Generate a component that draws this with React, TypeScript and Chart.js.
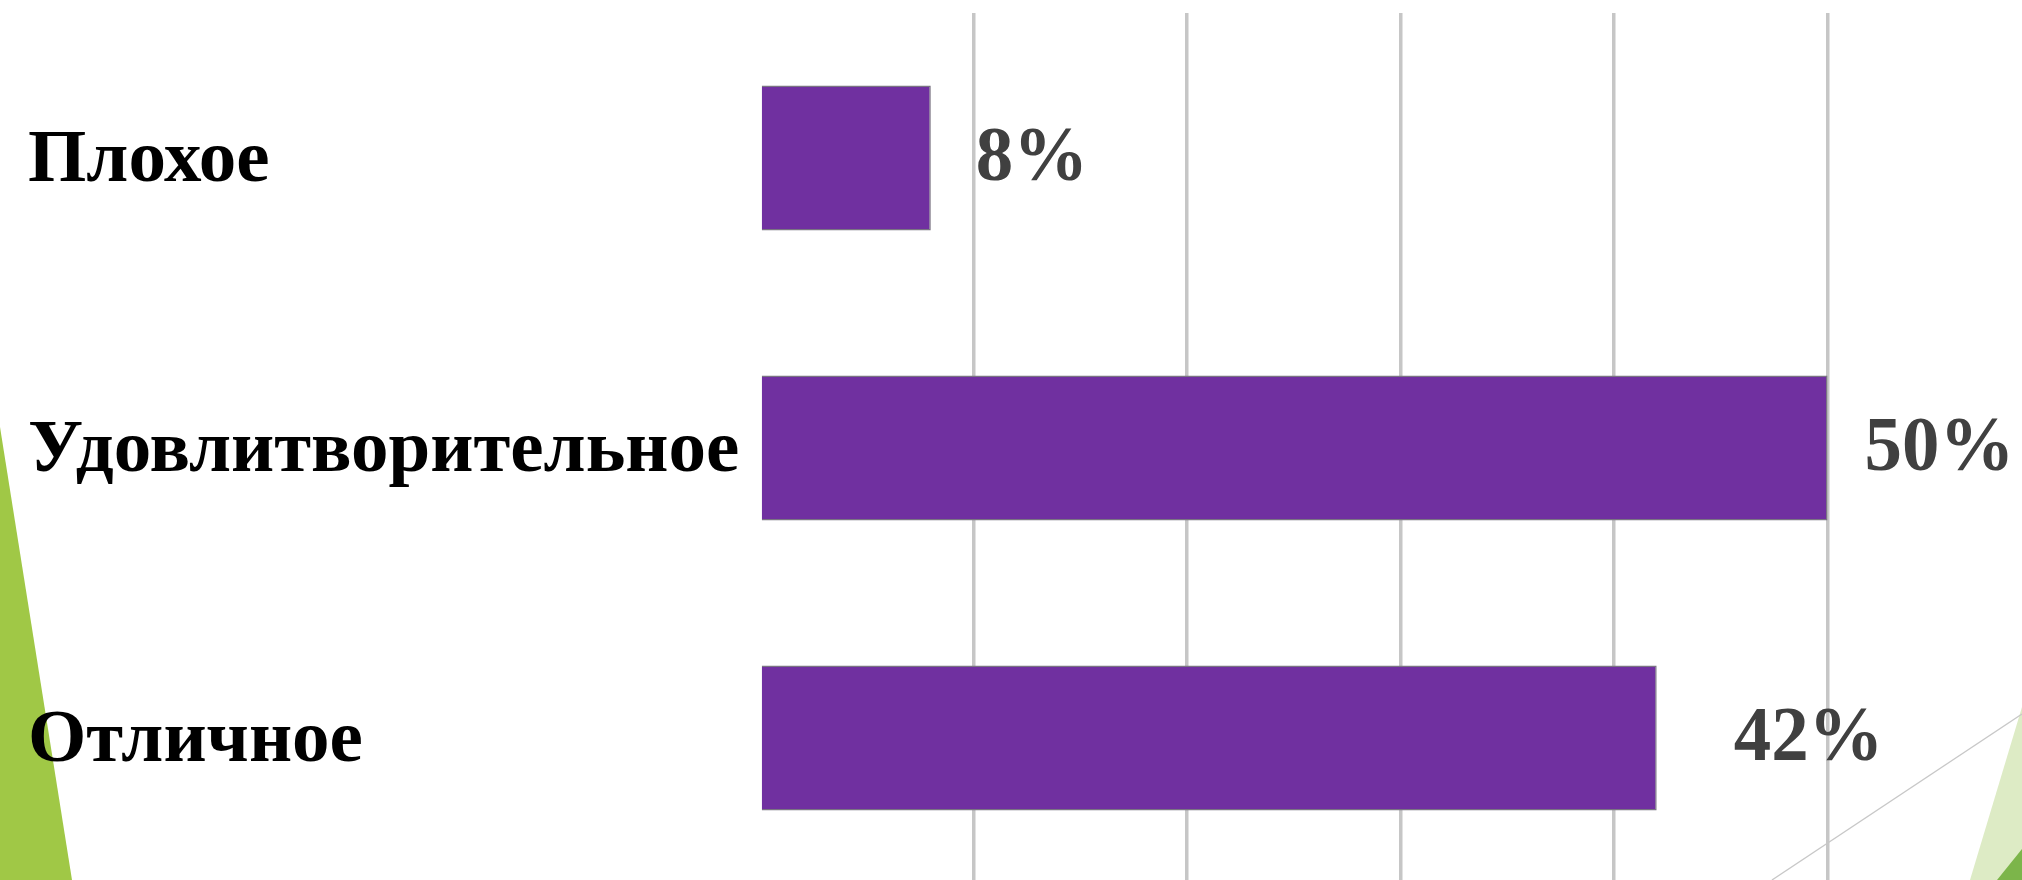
import React, { useEffect, useRef } from "react";
import { Chart, registerables } from "chart.js";

Chart.register(...registerables);

const categories = ["Плохое", "Удовлитворительное", "Отличное"];
const values = [8, 50, 42];
const axisMax = 60;
const axisStep = 10;

const LABEL_GAPS = [45, 37, 77];

const decorPlugin = {
  id: "decor",
  beforeDraw(chart: any) {
    const ctx = chart.ctx;
    ctx.save();
    ctx.fillStyle = "#A0C846";
    ctx.beginPath();
    ctx.moveTo(0, 427);
    ctx.lineTo(72, 880);
    ctx.lineTo(0, 880);
    ctx.closePath();
    ctx.fill();
    ctx.fillStyle = "#DDEBC5";
    ctx.beginPath();
    ctx.moveTo(2022, 707);
    ctx.lineTo(1970, 880);
    ctx.lineTo(2022, 880);
    ctx.closePath();
    ctx.fill();
    ctx.fillStyle = "#7CB54A";
    ctx.beginPath();
    ctx.moveTo(2022, 849);
    ctx.lineTo(1997, 880);
    ctx.lineTo(2022, 880);
    ctx.closePath();
    ctx.fill();
    ctx.strokeStyle = "#c8c8c8";
    ctx.lineWidth = 1.5;
    ctx.beginPath();
    ctx.moveTo(2022, 714);
    ctx.lineTo(1772, 880);
    ctx.stroke();
    ctx.restore();
  },
};

const valueLabelPlugin = {
  id: "valueLabels",
  afterDatasetsDraw(chart: any) {
    const ctx = chart.ctx;
    const meta = chart.getDatasetMeta(0);
    meta.data.forEach((el: any, i: number) => {
      ctx.save();
      ctx.translate(el.x + LABEL_GAPS[i], el.y + 2);
      ctx.scale(0.96, 1);
      ctx.font = 'bold 78px "Liberation Serif"';
      ctx.fillStyle = "#404040";
      ctx.textAlign = "left";
      ctx.textBaseline = "middle";
      ctx.fillText(`${values[i]}%`, 0, 0);
      ctx.restore();
    });
  },
};

export default function App() {
  const ref = useRef<HTMLCanvasElement | null>(null);
  useEffect(() => {
    if (!ref.current) return;
    const chart = new Chart(ref.current, {
      type: "bar",
      data: {
        labels: categories,
        datasets: [
          {
            data: values,
            backgroundColor: "#7030A0",
            borderColor: "#7a7482",
            borderWidth: 1.5,
            barPercentage: 0.5,
            categoryPercentage: 1,
          },
        ],
      },
      plugins: [decorPlugin, valueLabelPlugin],
      options: {
        animation: false,
        responsive: true,
        maintainAspectRatio: false,
        devicePixelRatio: 1,
        indexAxis: "y",
        layout: { padding: { left: 28, top: 13, right: 3, bottom: 1 } },
        plugins: { legend: { display: false }, tooltip: { enabled: false } },
        scales: {
          x: {
            min: 0,
            max: axisMax,
            ticks: { display: false, stepSize: axisStep },
            border: { display: false },
            afterFit: (s: any) => {
              s.height = 0;
              s.paddingLeft = 0;
              s.paddingRight = 0;
            },
            grid: {
              drawTicks: false,
              lineWidth: 3.5,
              color: (c: any) => (c.tick && c.tick.value === 0 ? "rgba(0,0,0,0)" : "#c6c6c6"),
            },
          },
          y: {
            border: { display: false },
            grid: { display: false, drawTicks: false },
            afterFit: (s: any) => {
              s.width = 732;
              s.paddingTop = 0;
              s.paddingBottom = 0;
            },
            ticks: {
              crossAlign: "far",
              labelOffset: 4,
              color: "#000000",
              font: { family: '"Liberation Serif", serif', size: 75, weight: "bold" },
            },
          },
        },
      },
    });
    return () => chart.destroy();
  }, []);
  return (
    <div style={{ position: "absolute", left: 0, top: 0, width: 2022, height: 880, overflow: "hidden", background: "#fff" }}>
      <div style={{ position: "relative", width: 2044, height: 884 }}>
        <canvas ref={ref} />
      </div>
    </div>
  );
}
